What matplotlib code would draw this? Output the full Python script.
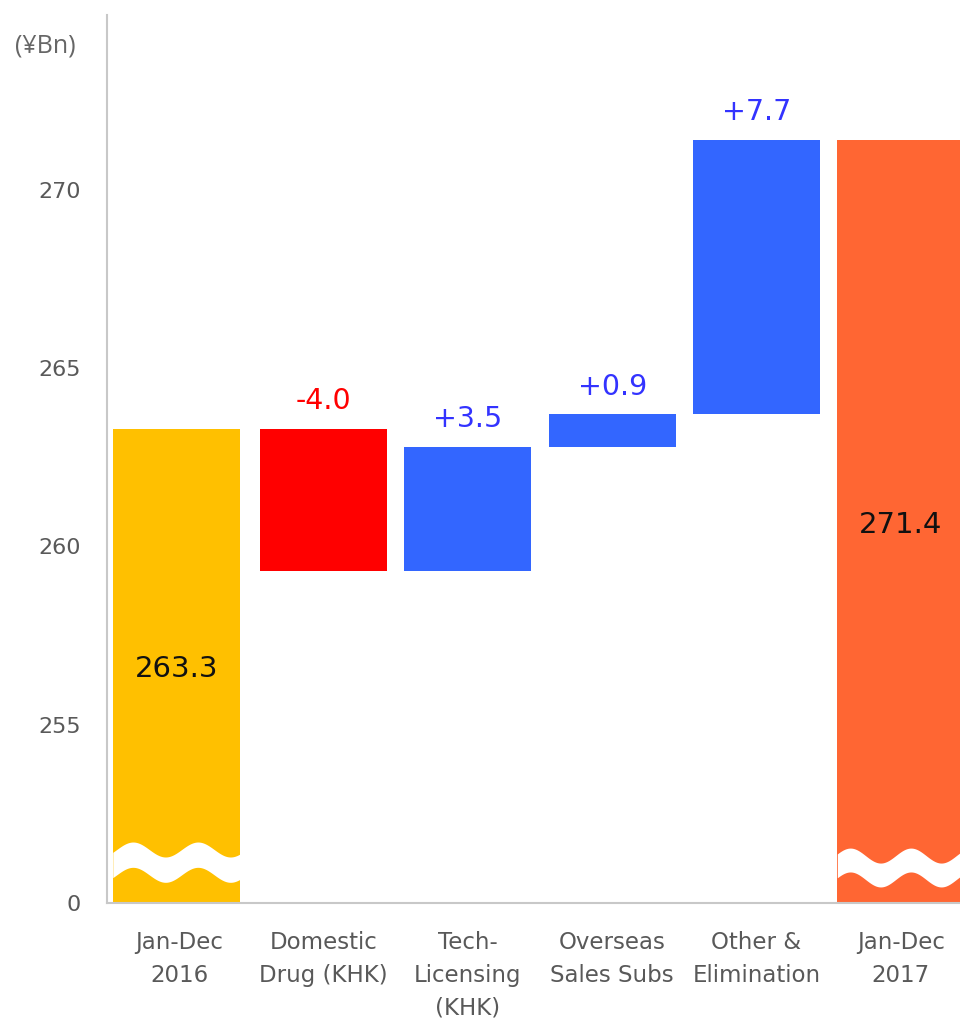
import numpy as np
import matplotlib
matplotlib.use("Agg")
import matplotlib.pyplot as plt

categories = ["Jan-Dec\n2016", "Domestic\nDrug (KHK)", "Tech-\nLicensing\n(KHK)",
              "Overseas\nSales Subs", "Other &\nElimination", "Jan-Dec\n2017"]
start_value = 263.3
deltas = [-4.0, 3.5, 0.9, 7.7]
end_value = 271.4
yticks = [250, 255, 260, 265, 270]
ytick_labels = ["0", "255", "260", "265", "270"]

c_start = "#FFC000"
c_neg = "#FF0000"
c_pos = "#3366FF"
c_end = "#FF6633"
label_gray = "#595959"

fig = plt.figure(figsize=(9.6, 10.24), dpi=100)
ax = fig.add_axes([107/960, 1-903/1024, 1-107/960, (903-15)/1024])

base = 250.0
x = np.arange(len(categories))
w = 0.88

# start bar
ax.bar(x[0] - 0.02, start_value - base, bottom=base, width=w, color=c_start, zorder=2)
# deltas
cur = start_value
for i, d in enumerate(deltas, start=1):
    lo = min(cur, cur + d)
    col = c_neg if d < 0 else c_pos
    ax.bar(x[i], abs(d), bottom=lo, width=w, color=col, zorder=2)
    top = max(cur, cur + d)
    ax.annotate(f"{d:+.1f}", (x[i], top), xytext=(0, 14), textcoords="offset points",
                ha="center", va="baseline", fontsize=20.5,
                color=(c_neg if d < 0 else "#3333FF"))
    cur += d
# end bar
ax.bar(x[-1], end_value - base, bottom=base, width=w, color=c_end, zorder=2)

ax.text(x[0] - 0.02, (start_value + base) / 2 - 0.1, f"{start_value:.1f}", ha="center", va="center",
        fontsize=21, color="#111111", zorder=4)
ax.text(x[-1], (end_value + base) / 2 - 0.1, f"{end_value:.1f}", ha="center", va="center",
        fontsize=21, color="#111111", zorder=4)

# axis-break waves (white bands)
def wave(xc, lo_c, hi_c, phase_peak, period=0.45, amp=0.21):
    xs = np.linspace(xc - w/2, xc + w/2, 300)
    s = amp * np.cos(2*np.pi*(xs - (xc + phase_peak)) / period)
    ax.fill_between(xs, lo_c + s, hi_c + s, color="white", zorder=3, lw=0)

wave(x[0] - 0.02, 250.79, 251.50, -0.30)
wave(x[-1], 250.66, 251.33, -0.35, period=0.42)

ax.set_xlim(-0.5, 5.41)
ax.set_ylim(250, 274.9)
ax.set_yticks(yticks)
ax.set_yticklabels(ytick_labels)
ax.set_xticks(x)
ax.set_xticklabels(categories, linespacing=1.55)
ax.tick_params(axis="both", length=0, labelcolor=label_gray)
ax.tick_params(axis="y", pad=19, labelsize=16)
ax.tick_params(axis="x", pad=20, labelsize=16.5)
for sp in ["top", "right"]:
    ax.spines[sp].set_visible(False)
for sp in ["left", "bottom"]:
    ax.spines[sp].set_color("#C8C8C8")
    ax.spines[sp].set_linewidth(1.5)

fig.text(45/960, 1-46/1024, "(¥Bn)", ha="center", va="center", fontsize=18,
         color="#666666", family=["Open Sans", "DejaVu Sans"])

fig.savefig("out.png", dpi=100)
